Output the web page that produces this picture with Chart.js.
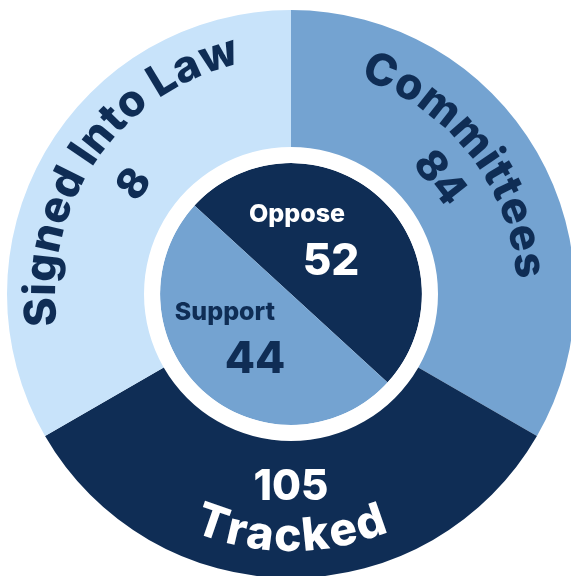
<!DOCTYPE html>
<html>
<head>
<meta charset="utf-8">
<script src="https://cdn.jsdelivr.net/npm/chart.js@4"></script>
<style>
    html, body { margin: 0; padding: 0; background: #ffffff; overflow: hidden; width: 571px; height: 576px; }
    #wrap { position: absolute; left: 7px; top: 10px; width: 568px; height: 568px; }
</style>
</head>
<body>
<div id="wrap"><canvas id="billChart" width="568" height="568"></canvas></div>
<script>
// outer ring: bill stages (segments are drawn the same size in the graphic)
const stageLabels = ['Committees', 'Tracked', 'Signed Into Law'];
const stageCounts = [84, 105, 8];
const stageWeights = [1, 1, 1];
const stageColors = ['#74a3d1', '#0f2d55', '#c8e3fa'];
const stageTextColors = ['#0f2d55', '#ffffff', '#0f2d55'];

// inner pie: position on bills
const stanceLabels = ['Oppose', 'Support'];
const stanceCounts = [52, 44];
const stanceWeights = [1, 1];
const stanceColors = ['#0f2d55', '#74a3d1'];
const stanceTextColors = ['#ffffff', '#0f2d55'];

const FONT = 'Inter, "Open Sans", "DejaVu Sans", sans-serif';

// where the stage texts sit: shift from segment middle (deg), radii, orientation
const stageTextLayout = [
    { shift: -8, labelR: 226, countR: 188, outward: true, size: 44, gap: 0.5 },
    { shift: 0, labelR: 257, countR: 193, outward: false, size: 46, gap: 2 },
    { shift: 5, labelR: 236, countR: 191, outward: true, size: 44, gap: 0.5 }
];
// inner labels relative to pie center
const stanceTextLayout = [
    { label: [6, -80], count: [40, -32] },
    { label: [-66, 18], count: [-36, 66] }
];

function drawArcText(ctx, text, cx, cy, r, mid, outward, gap) {
    const chars = Array.from(text);
    const widths = chars.map(ch => ctx.measureText(ch).width + gap);
    const total = widths.reduce((s, w) => s + w, 0) - gap;
    let a = outward ? mid - total / 2 / r : mid + total / 2 / r;
    chars.forEach((ch, k) => {
        const w = widths[k] - gap;
        const ca = outward ? a + w / 2 / r : a - w / 2 / r;
        ctx.save();
        ctx.translate(cx + r * Math.cos(ca), cy + r * Math.sin(ca));
        ctx.rotate(outward ? ca + Math.PI / 2 : ca - Math.PI / 2);
        ctx.fillText(ch, 0, 0);
        ctx.restore();
        a = outward ? a + widths[k] / r : a - widths[k] / r;
    });
}

const labelPlugin = {
    id: 'ringLabels',
    afterDatasetsDraw(chart) {
        const ctx = chart.ctx;
        ctx.save();
        ctx.textAlign = 'center';

        // outer ring texts
        chart.getDatasetMeta(0).data.forEach((arc, i) => {
            const lay = stageTextLayout[i];
            const mid = (arc.startAngle + arc.endAngle) / 2 + lay.shift * Math.PI / 180;
            ctx.fillStyle = stageTextColors[i];
            ctx.textBaseline = 'alphabetic';
            ctx.font = '800 ' + lay.size + 'px ' + FONT;
            drawArcText(ctx, stageLabels[i], arc.x, arc.y, lay.labelR, mid, lay.outward, lay.gap);

            ctx.textBaseline = 'middle';
            ctx.font = '800 42px ' + FONT;
            ctx.save();
            ctx.translate(arc.x + lay.countR * Math.cos(mid), arc.y + lay.countR * Math.sin(mid));
            ctx.rotate(lay.outward ? mid + Math.PI / 2 : mid - Math.PI / 2);
            ctx.fillText(String(stageCounts[i]), 0, 0);
            ctx.restore();
        });

        // inner pie texts
        chart.getDatasetMeta(2).data.forEach((arc, i) => {
            const lay = stanceTextLayout[i];
            ctx.fillStyle = stanceTextColors[i];
            ctx.textBaseline = 'middle';
            ctx.font = '800 25px ' + FONT;
            ctx.fillText(stanceLabels[i], arc.x + lay.label[0], arc.y + lay.label[1]);
            ctx.font = '800 44px ' + FONT;
            ctx.fillText(String(stanceCounts[i]), arc.x + lay.count[0], arc.y + lay.count[1]);
        });
        ctx.restore();
    }
};

new Chart(document.getElementById('billChart'), {
    type: 'pie',
    data: {
        labels: stageLabels,
        datasets: [
            {
                label: 'Stage',
                data: stageWeights,
                backgroundColor: stageColors,
                weight: 137,
                rotation: 0
            },
            {
                // white gap between the ring and the inner pie
                label: 'gap',
                data: [1],
                backgroundColor: ['#ffffff'],
                weight: 16
            },
            {
                label: 'Stance',
                data: stanceWeights,
                backgroundColor: stanceColors,
                weight: 131,
                rotation: -47.5
            }
        ]
    },
    options: {
        responsive: false,
        animation: false,
        borderWidth: 0,
        hoverOffset: 0,
        layout: { padding: 0 },
        plugins: {
            legend: { display: false },
            tooltip: { enabled: false }
        }
    },
    plugins: [labelPlugin]
});
</script>
</body>
</html>
